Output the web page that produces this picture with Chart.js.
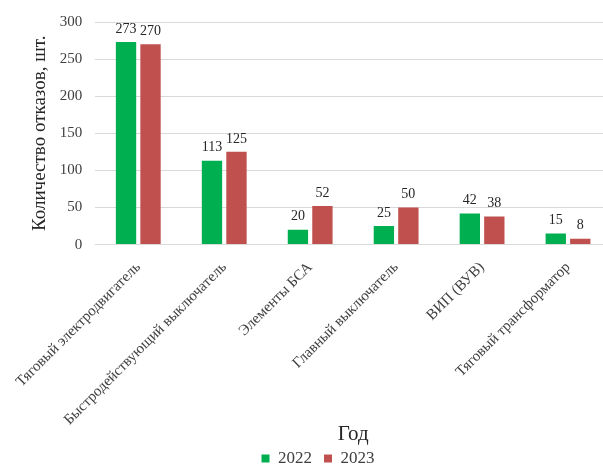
<!DOCTYPE html>
<html>
<head>
<meta charset="utf-8">
<script src="https://cdn.jsdelivr.net/npm/chart.js@4"></script>
<style>
  html, body { margin: 0; background: #fff; overflow: hidden; }
  #wrap { width: 611px; height: 464px; }
</style>
</head>
<body>
<div id="wrap"><canvas id="otkazChart"></canvas></div>
<script>
const kategorien = [
  'Тяговый электродвигатель',
  'Быстродействующий выключатель',
  'Элементы БСА',
  'Главный выключатель',
  'ВИП (ВУВ)',
  'Тяговый трансформатор'
];
const werte2022 = [273, 113, 20, 25, 42, 15];
const werte2023 = [270, 125, 52, 50, 38, 8];

const schrift = 'Liberation Serif, Times New Roman, serif';

// Werte über den Balken
const wertLabels = {
  id: 'wertLabels',
  afterDatasetsDraw(chart) {
    const ctx = chart.ctx;
    ctx.save();
    ctx.font = '14px ' + schrift;
    ctx.fillStyle = '#262626';
    ctx.textAlign = 'center';
    ctx.textBaseline = 'bottom';
    chart.data.datasets.forEach((ds, i) => {
      chart.getDatasetMeta(i).data.forEach((bar, j) => {
        ctx.fillText(ds.data[j], bar.x, bar.y - 6);
      });
    });
    ctx.restore();
  }
};

const ctx = document.getElementById('otkazChart').getContext('2d');

new Chart(ctx, {
  type: 'bar',
  data: {
    labels: kategorien,
    datasets: [{
      label: '2022',
      data: werte2022,
      backgroundColor: '#00B050',
      categoryPercentage: 0.57,
      barPercentage: 0.83
    },
    {
      label: '2023',
      data: werte2023,
      backgroundColor: '#C0504D',
      categoryPercentage: 0.57,
      barPercentage: 0.83
    }]
  },
  options: {
    responsive: true,
    maintainAspectRatio: false,
    animation: false,
    layout: {
      padding: { top: 7, right: 0, left: 25, bottom: -13 }
    },
    scales: {
      x: {
        grid: { display: false },
        border: { color: '#d9d9d9' },
        ticks: {
          minRotation: 45,
          maxRotation: 45,
          padding: 6,
          color: '#404040',
          font: { family: schrift, size: 15 }
        },
        title: {
          display: true,
          text: 'Год',
          color: '#262626',
          font: { family: schrift, size: 21 },
          padding: { top: -13, bottom: -9 }
        }
      },
      y: {
        min: 0,
        max: 300,
        grid: { color: '#d9d9d9', drawTicks: false },
        border: { display: false },
        ticks: {
          stepSize: 50,
          color: '#404040',
          padding: 13,
          font: { family: schrift, size: 15 }
        },
        title: {
          display: true,
          text: 'Количество отказов, шт.',
          color: '#262626',
          font: { family: schrift, size: 19 },
          padding: { bottom: -5 }
        }
      }
    },
    plugins: {
      legend: {
        position: 'bottom',
        labels: {
          boxWidth: 8,
          boxHeight: 8,
          padding: 12,
          color: '#404040',
          font: { family: schrift, size: 17, lineHeight: 1 }
        }
      },
      tooltip: { enabled: false }
    }
  },
  plugins: [wertLabels]
});
</script>
</body>
</html>
